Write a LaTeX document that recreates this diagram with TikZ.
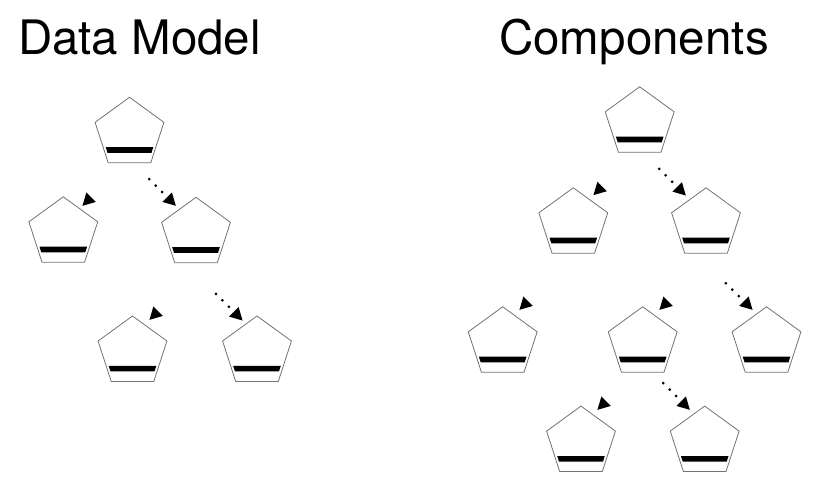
\documentclass[tikz,border=0pt]{standalone}
\usepackage{fontspec}
\setmainfont{TeX Gyre Heros}
\usetikzlibrary{shapes.geometric,arrows.meta}
\tikzset{
  pent/.style={regular polygon, regular polygon sides=5, minimum size=72.4pt,
    inner sep=0pt, draw=black!55, line width=0.8pt, fill=white},
  bar/.style={fill=black},
  title/.style={font=\fontsize{47.5}{50}\selectfont, anchor=base, inner sep=0pt},
  link/.style={line width=3pt, line cap=round, dash pattern=on 0pt off 9.1pt,
    -{Triangle[length=12.5pt,width=12.5pt]}},
  hiddenlink/.style={line width=3pt, line cap=butt, dash pattern=on 0pt off 200pt,
    -{Triangle[length=12.5pt,width=12.5pt]}}
}
\newcommand\pentnode[3]{%
  \node[pent] (#1) at (#2,#3) {};
  \fill[bar] ([shift={(-23.8,13.7)}]#1.center) -- ([shift={(23.8,13.7)}]#1.center)
    -- ([shift={(22.0,19.3)}]#1.center) -- ([shift={(-22.0,19.3)}]#1.center) -- cycle;}
\begin{document}
\begin{tikzpicture}[x=1pt,y=-1pt]
\useasboundingbox (0,0) rectangle (827,502);
\node[title] (t1) at (139.5,55) {Data Model};
\node[title] (t2) at (634,55) {Components};
% left tree
\pentnode{P1}{129.5}{133.5}
\pentnode{P2}{63.3}{233}
\pentnode{P3}{196}{233.5}
\pentnode{P4}{132.5}{352.2}
\pentnode{P5}{257}{352.2}
% right tree
\pentnode{P6}{639.7}{123}
\pentnode{P7}{573.3}{224}
\pentnode{P8}{706}{224}
\pentnode{P9}{502.7}{343}
\pentnode{P10}{642.7}{343}
\pentnode{P11}{766.5}{343}
\pentnode{P12}{581}{442.3}
\pentnode{P13}{704.7}{442.3}
% connectors
\draw[hiddenlink] ([shift={(-20.4,45.7)}]P1.center) -- ([shift={(19,-27)}]P2.center);
\draw[link] ([shift={(19.7,45.7)}]P1.center) -- ([shift={(-20,-27.5)}]P3.center);
\draw[hiddenlink] ([shift={(-19.9,59.7)}]P3.center) -- ([shift={(16.8,-32.2)}]P4.center);
\draw[link] ([shift={(19.9,60.4)}]P3.center) -- ([shift={(-14.3,-31.5)}]P5.center);
\draw[hiddenlink] ([shift={(-19.6,45.5)}]P6.center) -- ([shift={(20,-28.7)}]P7.center);
\draw[link] ([shift={(19.5,45.9)}]P6.center) -- ([shift={(-20,-28.3)}]P8.center);
\draw[hiddenlink] ([shift={(-27.2,59.2)}]P7.center) -- ([shift={(16.6,-33)}]P9.center);
\draw[hiddenlink] ([shift={(-19.9,59.2)}]P8.center) -- ([shift={(16.6,-33)}]P10.center);
\draw[link] ([shift={(19.9,59.2)}]P8.center) -- ([shift={(-13.8,-33)}]P11.center);
\draw[hiddenlink] ([shift={(-18.6,40.2)}]P10.center) -- ([shift={(16.3,-32.3)}]P12.center);
\draw[link] ([shift={(20.5,40.2)}]P10.center) -- ([shift={(-14.7,-32.3)}]P13.center);
\end{tikzpicture}
\end{document}
